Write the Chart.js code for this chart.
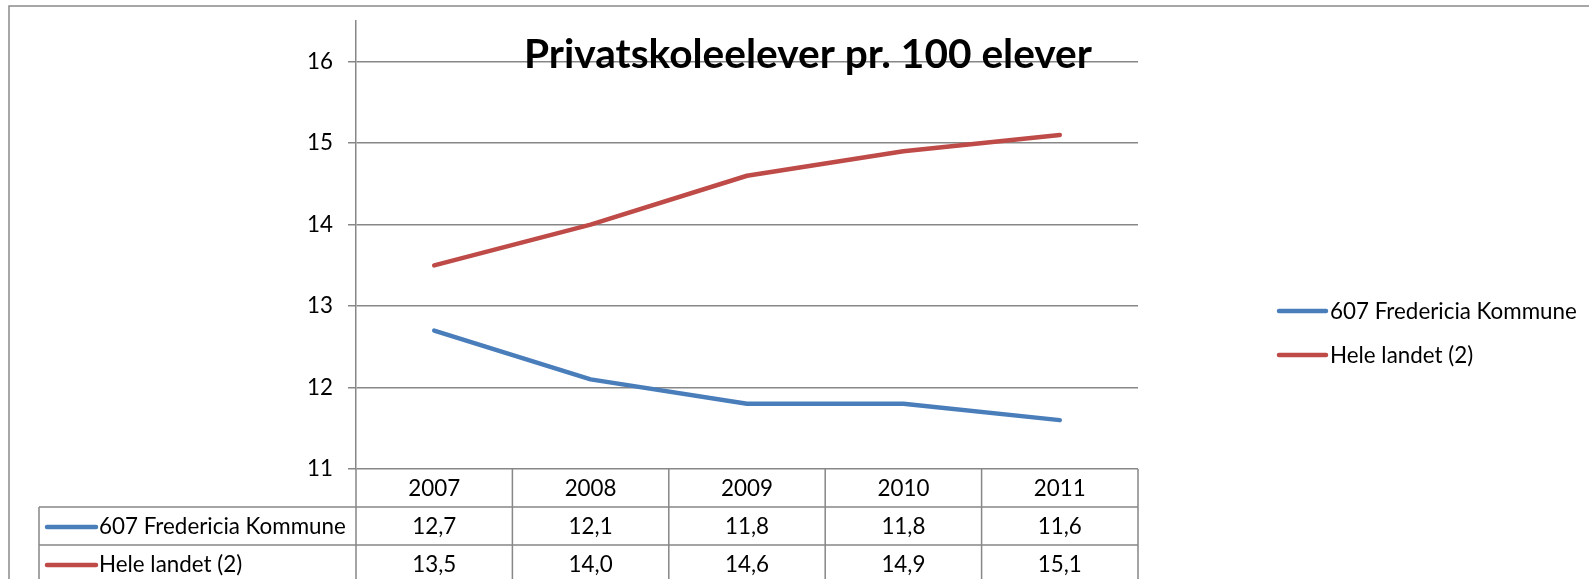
<!DOCTYPE html>
<html><head><meta charset="utf-8">
<script src="https://cdn.jsdelivr.net/npm/chart.js@4.4.1/dist/chart.umd.min.js"></script>
<style>html,body{margin:0;padding:0;background:#fff}canvas{display:block}</style>
</head><body>
<canvas id="c" width="1589" height="579"></canvas>
<script>
// ---- data ----
const categories = ['2007', '2008', '2009', '2010', '2011'];
const seriesNames = ['607 Fredericia Kommune', 'Hele landet (2)'];
const fredericia = [12.7, 12.1, 11.8, 11.8, 11.6];
const heleLandet = [13.5, 14.0, 14.6, 14.9, 15.1];
const yTickValues = [11, 12, 13, 14, 15, 16];
const titleText = 'Privatskoleelever pr. 100 elever';

// ---- styling ----
const FAMILY = 'Lato, "Open Sans", sans-serif';
const BLUE = '#4A7EBB';
const RED = '#BE4B48';
const GRID = '#878787';
const seriesColors = [BLUE, RED];
const seriesData = [fredericia, heleLandet];

const mctx = document.createElement('canvas').getContext('2d');
function fitSize(text, weight, target) {
  mctx.font = weight + ' 100px ' + FAMILY;
  return 100 * target / mctx.measureText(text).width;
}
const smallSize = fitSize(seriesNames[0], 'normal', 247);
const titleSize = fitSize(titleText, 'bold', 568);
const fmt = v => v.toFixed(1).replace('.', ',');

const ROW_H = 38;

const extras = {
  id: 'extras',
  afterDraw(chart) {
    const ctx = chart.ctx;
    const a = chart.chartArea;
    const xs = chart.scales.x;
    const n = categories.length;
    const colW = (a.right - a.left) / n;
    const tableLeft = 39;
    const top = a.bottom;
    ctx.save();
    // outer frame
    ctx.strokeStyle = '#8a8a8a';
    ctx.lineWidth = 1.5;
    ctx.strokeRect(9, 6, 1700, 700);

    // table lines
    ctx.strokeStyle = GRID;
    ctx.lineWidth = 1.5;
    ctx.beginPath();
    for (let r = 1; r <= 2; r++) {
      const y = top + r * ROW_H;
      ctx.moveTo(tableLeft, y); ctx.lineTo(a.right, y);
    }
    ctx.moveTo(tableLeft, top + ROW_H); ctx.lineTo(tableLeft, top + 4 * ROW_H);
    for (let k = 0; k <= n; k++) {
      const x = a.left + k * colW;
      ctx.moveTo(x, top); ctx.lineTo(x, top + 4 * ROW_H);
    }
    ctx.stroke();

    // table text
    ctx.fillStyle = '#000';
    ctx.font = 'normal ' + smallSize + 'px ' + FAMILY;
    ctx.textBaseline = 'middle';
    ctx.textAlign = 'center';
    categories.forEach((c, i) => {
      ctx.fillText(c, xs.getPixelForValue(i), top + ROW_H / 2 + 1);
    });
    seriesData.forEach((arr, s) => {
      const yc = top + ROW_H * (s + 1) + ROW_H / 2 + 1;
      arr.forEach((v, i) => {
        ctx.textAlign = 'center';
        ctx.fillText(fmt(v), xs.getPixelForValue(i), yc);
      });
      // key
      ctx.strokeStyle = seriesColors[s];
      ctx.lineWidth = 4.5;
      ctx.lineCap = 'round';
      ctx.beginPath(); ctx.moveTo(47, yc); ctx.lineTo(96, yc); ctx.stroke();
      ctx.textAlign = 'left';
      ctx.fillText(seriesNames[s], 99, yc);
    });

    // legend on the right
    seriesNames.forEach((name, s) => {
      const y = 311 + s * 44;
      ctx.strokeStyle = seriesColors[s];
      ctx.lineWidth = 4.5;
      ctx.lineCap = 'round';
      ctx.beginPath(); ctx.moveTo(1279, y); ctx.lineTo(1326, y); ctx.stroke();
      ctx.textAlign = 'left';
      ctx.fillText(name, 1330, y + 1);
    });

    // title
    ctx.font = 'bold ' + titleSize + 'px ' + FAMILY;
    ctx.textAlign = 'center';
    ctx.textBaseline = 'alphabetic';
    ctx.fillText(titleText, 808, 68);
    ctx.restore();
  }
};

new Chart(document.getElementById('c'), {
  type: 'line',
  data: {
    labels: categories,
    datasets: seriesNames.map((name, s) => ({
      label: name,
      data: seriesData[s],
      borderColor: seriesColors[s],
      backgroundColor: seriesColors[s],
      borderWidth: 4.5,
      pointRadius: 0,
      borderCapStyle: 'round',
      borderJoinStyle: 'round',
      tension: 0
    }))
  },
  options: {
    responsive: false,
    animation: false,
    devicePixelRatio: 1,
    layout: { padding: { left: 0, top: 21, right: 451, bottom: 110 } },
    plugins: { legend: { display: false }, title: { display: false }, tooltip: { enabled: false } },
    scales: {
      x: { display: false, offset: true },
      y: {
        min: 11, max: 16.5,
        afterFit(scale) {
          scale.width = 356;
          scale.paddingTop = 0;
          scale.paddingBottom = 0;
        },
        afterBuildTicks(scale) {
          scale.ticks = yTickValues.map(v => ({ value: v }));
        },
        ticks: {
          stepSize: 1,
          color: '#000',
          padding: 15,
          font: { family: FAMILY, size: smallSize },
          callback: v => String(v)
        },
        grid: { color: GRID, lineWidth: 1.5, tickLength: 8, drawTicks: true },
        border: { display: true, color: GRID, width: 1.5 }
      }
    }
  },
  plugins: [extras]
});
</script>
</body></html>
